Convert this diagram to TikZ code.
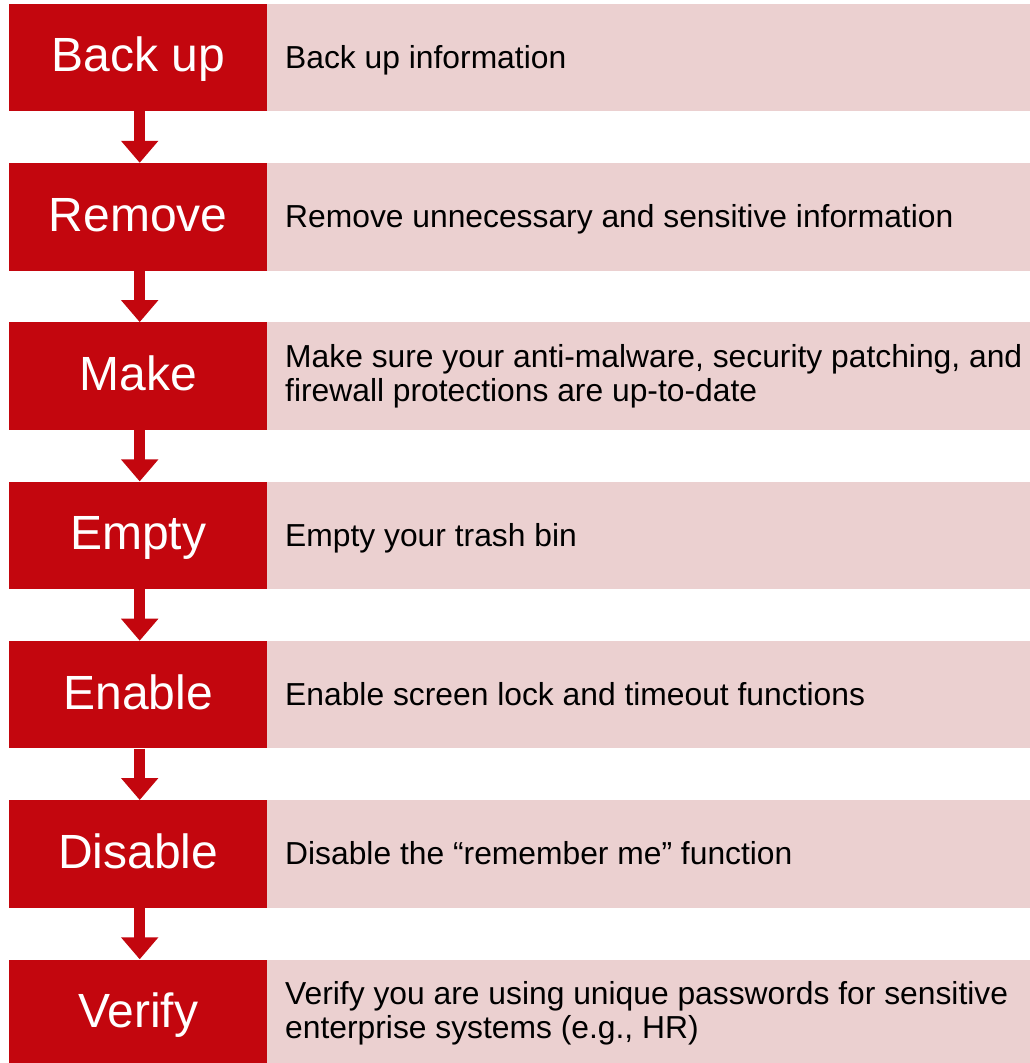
\documentclass[tikz,border=0pt]{standalone}
\usepackage{fontspec}
\setmainfont{Liberation Sans}
\usetikzlibrary{arrows.meta}
\definecolor{stepred}{RGB}{195,6,14}
\definecolor{steppink}{RGB}{235,208,208}
\begin{document}
\begin{tikzpicture}[x=1pt,y=-1pt,
  redbox/.style={fill=stepred, minimum width=258pt, minimum height=107.5pt, inner sep=0pt, anchor=north west},
  pinkbox/.style={fill=steppink, minimum width=763pt, minimum height=107.5pt, inner sep=0pt, anchor=north west},
  steplabel/.style={text=white, font=\fontsize{48}{50}\selectfont, anchor=base, inner sep=0pt},
  desc/.style={font=\fontsize{31.8}{33.7}\selectfont, align=left, anchor=base west, inner sep=0pt},
  flow/.style={draw=stepred, line width=11pt, -{Triangle[width=36pt,length=22pt]}}
]
\useasboundingbox (0,0) rectangle (1030,1063);
\fill[white] (0,0) rectangle (1030,1063);
\foreach \i/\lab/\txt/\dy in {
  1/Back up/{Back up information}/11,
  2/Remove/{Remove unnecessary and sensitive information}/11,
  3/Make/{Make sure your anti-malware, security patching, and\\firewall protections are up-to-date}/25.3,
  4/Empty/{Empty your trash bin}/11,
  5/Enable/{Enable screen lock and timeout functions}/11,
  6/Disable/{Disable the “remember me” function}/11,
  7/Verify/{Verify you are using unique passwords for sensitive\\enterprise systems (e.g., HR)}/25.3}
{
  \pgfmathsetmacro{\top}{3.5+159.3*(\i-1)}
  \node[redbox] (r\i) at (9,\top) {};
  \node[pinkbox] (p\i) at (267,\top) {};
  \node[steplabel] (l\i) at ([yshift=-14.4pt]r\i.center) {\lab};
  \node[desc] (t\i) at ([xshift=18pt,yshift=-\dy pt]p\i.west) {\txt};
}
\foreach \i [evaluate=\i as \j using int(\i+1)] in {1,...,6}
  \draw[flow] ([xshift=1.5pt]r\i.south) -- ([xshift=1.5pt]r\j.north);
\end{tikzpicture}
\end{document}
